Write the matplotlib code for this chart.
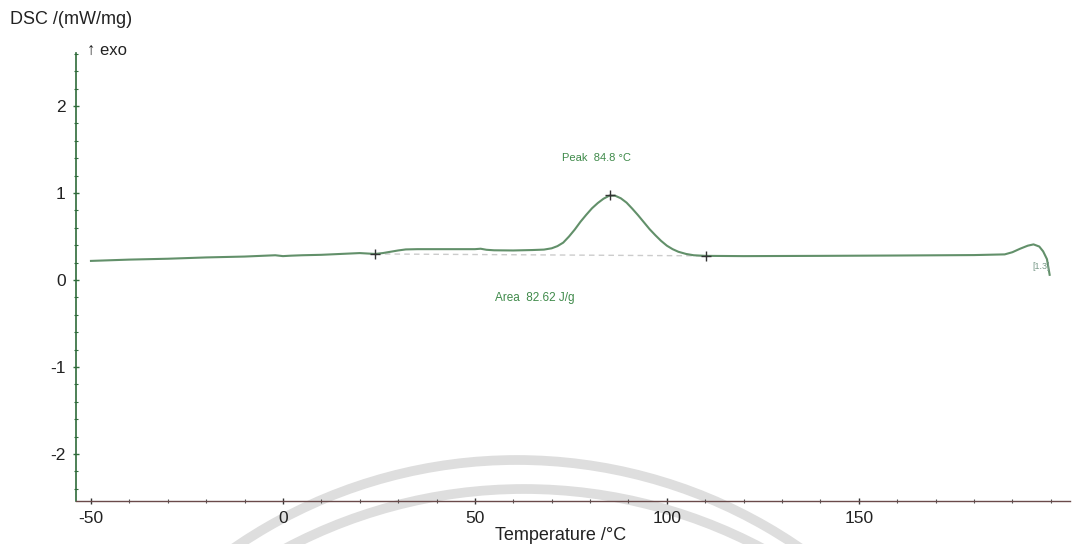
import matplotlib
matplotlib.use("Agg")
import matplotlib.pyplot as plt
from matplotlib.patches import Arc
from matplotlib.ticker import MultipleLocator

plt.rcParams['font.family'] = ['Liberation Sans', 'DejaVu Sans']
plt.rcParams['axes.unicode_minus'] = False

# ---- data ----
temperature = [-50, -40, -30, -20, -10, -2, 0, 2, 5, 10, 15, 20, 24, 26, 28, 30, 32, 35,
               40, 45, 50, 51.5, 53, 55, 60, 65, 68, 70, 71.5, 73, 74.5, 76, 77.5, 79,
               80.5, 82, 83.5, 85, 86.5, 88, 89.5, 91, 92.5, 94, 95.5, 97, 98.5, 100,
               101.5, 103, 105, 107, 110, 120, 140, 160, 180, 188, 190, 192, 194, 195.5,
               197, 198, 199, 199.7]
dsc = [0.22, 0.235, 0.245, 0.26, 0.27, 0.285, 0.275, 0.28, 0.285, 0.29, 0.30, 0.31, 0.30,
       0.31, 0.325, 0.34, 0.352, 0.355, 0.355, 0.355, 0.355, 0.36, 0.348, 0.342, 0.34,
       0.345, 0.35, 0.365, 0.39, 0.43, 0.50, 0.58, 0.67, 0.75, 0.825, 0.885, 0.935, 0.97,
       0.97, 0.94, 0.89, 0.82, 0.745, 0.665, 0.585, 0.515, 0.45, 0.395, 0.355, 0.325,
       0.30, 0.285, 0.278, 0.275, 0.278, 0.282, 0.287, 0.295, 0.32, 0.36, 0.395, 0.41,
       0.385, 0.33, 0.24, 0.06]

marker_t = [24, 85.3, 110.3]
marker_y = [0.30, 0.98, 0.278]
baseline_t = [24, 110.3]
baseline_y = [0.30, 0.278]

peak_label = "Peak  84.8 °C"
area_label = "Area  82.62 J/g"
step_label = "[1.3]"

x_ticks = [-50, 0, 50, 100, 150]
y_ticks = [-2, -1, 0, 1, 2]

W, H = 1081, 544
fig = plt.figure(figsize=(W / 100, H / 100), dpi=100)
fig.patch.set_facecolor('white')

# watermark arcs (decoration in the background)
bg = fig.add_axes([0, 0, 1, 1], zorder=0)
bg.set_xlim(0, W)
bg.set_ylim(H, 0)
bg.axis('off')
bg.add_patch(Arc((517, 959), 2 * 499, 2 * 499, theta1=180 + 30, theta2=360 - 30,
                 color='#dedede', lw=7))
bg.add_patch(Arc((524, 997), 2 * 508, 2 * 508, theta1=180 + 30, theta2=360 - 30,
                 color='#dedede', lw=7))

ax = fig.add_axes([76 / W, 1 - 501 / H, (1070 - 76) / W, (501 - 53) / H], zorder=1)
ax.set_facecolor('none')

ax.plot(baseline_t, baseline_y, color='#cccccc', lw=1.0, ls=(0, (4, 3)))
ax.plot(temperature, dsc, color='#62906a', lw=1.5, solid_joinstyle='round')
ax.plot(marker_t, marker_y, ls='none', marker='+', ms=7, mew=1.0, color='#333333')

ax.set_xlim(-53.9, 205)
ax.set_ylim(-2.54, 2.61)

ax.set_xticks(x_ticks)
ax.set_yticks(y_ticks)
ax.xaxis.set_minor_locator(MultipleLocator(10))
ax.yaxis.set_minor_locator(MultipleLocator(0.2))

for s in ['top', 'right']:
    ax.spines[s].set_visible(False)
ax.spines['left'].set_color('#2f6b3a')
ax.spines['bottom'].set_color('#6a4a4a')
ax.spines['left'].set_linewidth(1.2)
ax.spines['bottom'].set_linewidth(1.0)

ax.tick_params(axis='both', which='major', direction='inout', length=5, width=1.0,
               labelsize=12.5, colors='#333333', pad=5)
ax.tick_params(axis='both', which='minor', direction='inout', length=3, width=0.8,
               colors='#555555')
ax.tick_params(axis='y', which='both', color='#2f6b3a')
ax.tick_params(axis='y', labelcolor='#222222')
ax.tick_params(axis='x', labelcolor='#222222')

ax.text(81.8, 1.40, peak_label, fontsize=8, color='#3f8a4a', ha='center', va='center')
ax.text(65.6, -0.21, area_label, fontsize=8.5, color='#3f8a4a', ha='center', va='center')
ax.text(197.5, 0.15, step_label, fontsize=6.5, color='#7a9a8a', ha='center', va='center')

fig.text(10 / W, 1 - 20 / H, "DSC /(mW/mg)", fontsize=13, color='#222222',
         ha='left', va='center')
fig.text(87 / W, 1 - 50 / H, "↑ exo", fontsize=12, color='#222222',
         ha='left', va='center')
fig.text(495 / W, 1 - 535 / H, "Temperature /°C", fontsize=13, color='#222222',
         ha='left', va='center')

fig.savefig('out.png', dpi=100, facecolor='white')
